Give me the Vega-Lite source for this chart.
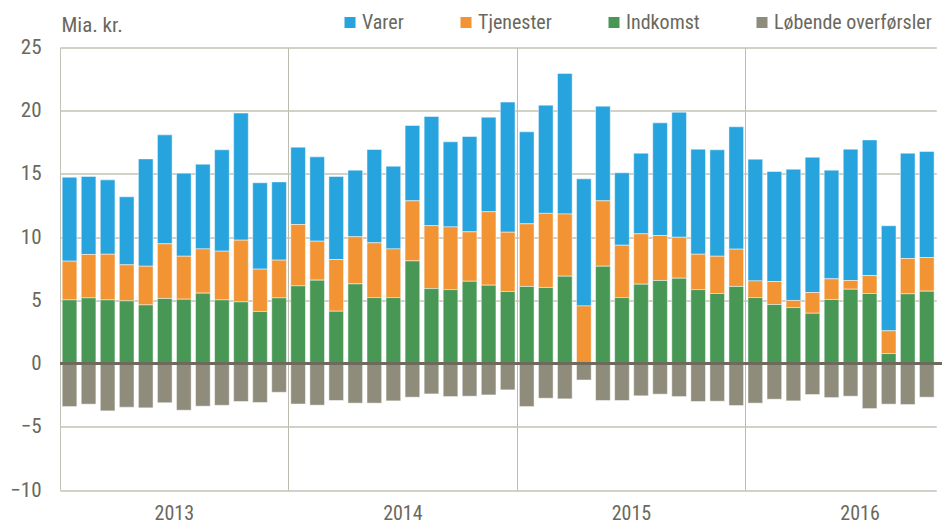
{
  "$schema": "https://vega.github.io/schema/vega-lite/v6.json",
  "width": 882,
  "height": 442.5,
  "autosize": {"type": "none"},
  "padding": {"left": 60, "top": 47.5, "right": 0, "bottom": 35},
  "background": "white",
  "config": {
    "view": {"stroke": null},
    "font": "Liberation Sans Narrow, Arial Narrow, Roboto Condensed, sans-serif"
  },
  "data": {"values": [
    {"m":"2013-01","Varer":6.64,"Tjenester":3.06,"Indkomst":5.04,"Løbende overførsler":-3.40},
    {"m":"2013-02","Varer":6.17,"Tjenester":3.43,"Indkomst":5.20,"Løbende overførsler":-3.21},
    {"m":"2013-03","Varer":5.88,"Tjenester":3.61,"Indkomst":5.04,"Løbende overførsler":-3.74},
    {"m":"2013-04","Varer":5.38,"Tjenester":2.85,"Indkomst":4.96,"Løbende overførsler":-3.45},
    {"m":"2013-05","Varer":8.49,"Tjenester":3.06,"Indkomst":4.64,"Løbende overførsler":-3.50},
    {"m":"2013-06","Varer":8.62,"Tjenester":4.32,"Indkomst":5.15,"Løbende overførsler":-3.10},
    {"m":"2013-07","Varer":6.57,"Tjenester":3.40,"Indkomst":5.09,"Løbende overførsler":-3.69},
    {"m":"2013-08","Varer":6.70,"Tjenester":3.50,"Indkomst":5.57,"Løbende overførsler":-3.37},
    {"m":"2013-09","Varer":8.02,"Tjenester":3.85,"Indkomst":5.04,"Løbende overførsler":-3.30},
    {"m":"2013-10","Varer":10.05,"Tjenester":4.88,"Indkomst":4.88,"Løbende overførsler":-3.00},
    {"m":"2013-11","Varer":6.83,"Tjenester":3.35,"Indkomst":4.12,"Løbende overførsler":-3.08},
    {"m":"2013-12","Varer":6.19,"Tjenester":2.98,"Indkomst":5.20,"Løbende overførsler":-2.27},
    {"m":"2014-01","Varer":6.12,"Tjenester":4.85,"Indkomst":6.15,"Løbende overførsler":-3.20},
    {"m":"2014-02","Varer":6.67,"Tjenester":3.08,"Indkomst":6.60,"Løbende overførsler":-3.29},
    {"m":"2014-03","Varer":6.57,"Tjenester":4.09,"Indkomst":4.14,"Løbende overførsler":-2.92},
    {"m":"2014-04","Varer":5.27,"Tjenester":3.73,"Indkomst":6.30,"Løbende overførsler":-3.13},
    {"m":"2014-05","Varer":7.38,"Tjenester":4.33,"Indkomst":5.22,"Løbende overførsler":-3.13},
    {"m":"2014-06","Varer":6.54,"Tjenester":3.85,"Indkomst":5.22,"Løbende overførsler":-2.95},
    {"m":"2014-07","Varer":5.96,"Tjenester":4.75,"Indkomst":8.12,"Løbende overførsler":-2.66},
    {"m":"2014-08","Varer":8.63,"Tjenester":4.98,"Indkomst":5.93,"Løbende overførsler":-2.40},
    {"m":"2014-09","Varer":6.73,"Tjenester":4.96,"Indkomst":5.85,"Løbende overførsler":-2.61},
    {"m":"2014-10","Varer":7.54,"Tjenester":3.91,"Indkomst":6.51,"Løbende overførsler":-2.58},
    {"m":"2014-11","Varer":7.48,"Tjenester":5.81,"Indkomst":6.20,"Løbende overførsler":-2.48},
    {"m":"2014-12","Varer":10.29,"Tjenester":4.69,"Indkomst":5.70,"Løbende overførsler":-2.08},
    {"m":"2015-01","Varer":7.28,"Tjenester":4.95,"Indkomst":6.10,"Løbende overførsler":-3.40},
    {"m":"2015-02","Varer":8.56,"Tjenester":5.86,"Indkomst":6.02,"Løbende overførsler":-2.74},
    {"m":"2015-03","Varer":11.12,"Tjenester":4.92,"Indkomst":6.91,"Løbende overførsler":-2.79},
    {"m":"2015-04","Varer":10.05,"Tjenester":4.56,"Indkomst":0.0,"Løbende overførsler":-1.30},
    {"m":"2015-05","Varer":7.49,"Tjenester":5.17,"Indkomst":7.70,"Løbende overførsler":-2.92},
    {"m":"2015-06","Varer":5.73,"Tjenester":4.14,"Indkomst":5.22,"Løbende overførsler":-2.92},
    {"m":"2015-07","Varer":6.38,"Tjenester":3.98,"Indkomst":6.28,"Løbende overførsler":-2.55},
    {"m":"2015-08","Varer":8.91,"Tjenester":3.56,"Indkomst":6.57,"Løbende overførsler":-2.42},
    {"m":"2015-09","Varer":9.89,"Tjenester":3.24,"Indkomst":6.75,"Løbende overførsler":-2.61},
    {"m":"2015-10","Varer":8.31,"Tjenester":2.80,"Indkomst":5.85,"Løbende overførsler":-3.00},
    {"m":"2015-11","Varer":8.42,"Tjenester":2.95,"Indkomst":5.54,"Løbende overførsler":-2.98},
    {"m":"2015-12","Varer":9.68,"Tjenester":2.95,"Indkomst":6.10,"Løbende overførsler":-3.32},
    {"m":"2016-01","Varer":9.63,"Tjenester":1.32,"Indkomst":5.22,"Løbende overførsler":-3.13},
    {"m":"2016-02","Varer":8.70,"Tjenester":1.82,"Indkomst":4.67,"Løbende overførsler":-2.82},
    {"m":"2016-03","Varer":10.38,"Tjenester":0.56,"Indkomst":4.43,"Løbende overførsler":-2.95},
    {"m":"2016-04","Varer":10.70,"Tjenester":1.64,"Indkomst":3.98,"Løbende overførsler":-2.45},
    {"m":"2016-05","Varer":8.60,"Tjenester":1.63,"Indkomst":5.07,"Løbende overførsler":-2.69},
    {"m":"2016-06","Varer":10.39,"Tjenester":0.69,"Indkomst":5.88,"Løbende overførsler":-2.58},
    {"m":"2016-07","Varer":10.73,"Tjenester":1.42,"Indkomst":5.54,"Løbende overførsler":-3.56},
    {"m":"2016-08","Varer":8.31,"Tjenester":1.80,"Indkomst":0.79,"Løbende overførsler":-3.21},
    {"m":"2016-09","Varer":8.33,"Tjenester":2.79,"Indkomst":5.52,"Løbende overførsler":-3.24},
    {"m":"2016-10","Varer":8.38,"Tjenester":2.66,"Indkomst":5.73,"Løbende overførsler":-2.66}
  ]},
  "transform": [
    {"fold": ["Varer", "Tjenester", "Indkomst", "Løbende overførsler"], "as": ["serie", "value"]}
  ],
  "layer": [
    {
      "mark": {"type": "bar", "width": {"band": 0.77}, "stroke": "white", "strokeWidth": 0.6, "strokeOpacity": 0.8},
      "encoding": {
        "x": {
          "field": "m", "type": "ordinal", "title": null,
          "scale": {"paddingInner": 0, "paddingOuter": 0, "range": [0, 876.3]},
          "axis": {
            "bandPosition": 0,
            "labelOffset": 9.5,
            "labelExpr": "slice(datum.value,5)=='06' ? slice(datum.value,0,4) : ''",
            "labelAngle": 0,
            "labelFontSize": 20,
            "labelColor": "#6a685c",
            "labelPadding": 13,
            "ticks": false,
            "domain": false,
            "grid": true,
            "gridColor": "#bdbbae",
            "gridWidth": 1,
            "gridOpacity": {"condition": {"test": "slice(datum.value,5)=='01' && datum.value != '2013-01'", "value": 1}, "value": 0}
          }
        },
        "y": {
          "field": "value", "type": "quantitative", "stack": "zero",
          "scale": {"domain": [-10, 25], "nice": false, "zero": false},
          "axis": {
            "values": [-10, -5, 0, 5, 10, 15, 20, 25],
            "title": "Mia. kr.",
            "titleAngle": 0,
            "titleAlign": "left",
            "titleBaseline": "alphabetic",
            "titleX": 1,
            "titleY": -16,
            "titleFontSize": 21,
            "titleFontWeight": "normal",
            "titleColor": "#6a685c",
            "labelFontSize": 21,
            "labelColor": "#6a685c",
            "labelPadding": 19,
            "ticks": false,
            "domain": true,
            "domainColor": "#c3c2b6",
            "grid": true,
            "gridColor": "#c3c2b6",
            "gridWidth": 1.3
          }
        },
        "color": {
          "field": "serie", "type": "nominal",
          "scale": {
            "domain": ["Varer", "Tjenester", "Indkomst", "Løbende overførsler"],
            "range": ["#27a3dd", "#f29433", "#489755", "#8f8c7c"]
          },
          "legend": {
            "title": null,
            "orient": "none",
            "direction": "horizontal",
            "legendX": 280,
            "legendY": -35,
            "padding": 0,
            "symbolType": "square",
            "symbolSize": 121,
            "symbolStrokeWidth": 0,
            "symbolOpacity": 1,
            "labelFontSize": 20,
            "labelLimit": 400,
            "labelColor": "#6a685c",
            "labelOffset": 2,
            "columnPadding": 52
          }
        },
        "order": {"field": "serie", "sort": "ascending"}
      }
    },
    {
      "mark": {"type": "rule", "color": "#6e6b5e", "strokeWidth": 2.2},
      "encoding": {"y": {"datum": 0}}
    }
  ]
}
